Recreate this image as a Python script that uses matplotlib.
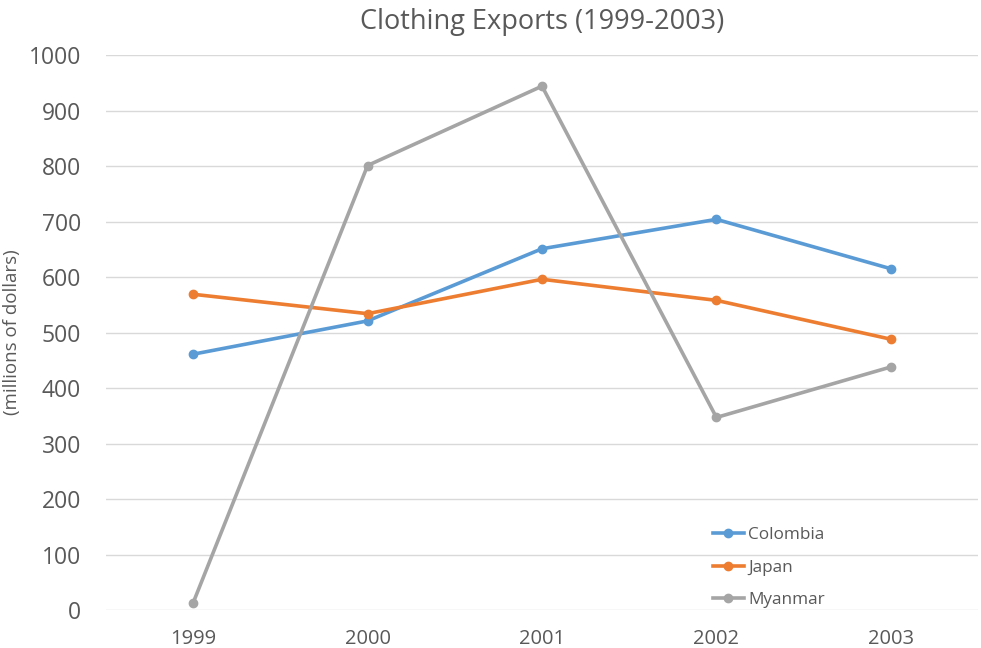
import numpy as np
import matplotlib.pyplot as plt

years = ["1999", "2000", "2001", "2002", "2003"]
colombia = [461, 521, 651, 704, 615]
japan = [569, 534, 596, 558, 488]
myanmar = [13, 801, 944, 347, 438]

plt.rcParams['font.family'] = ['Open Sans', 'DejaVu Sans']
txt = '#595959'

fig = plt.figure(figsize=(9.81, 6.48), dpi=100)
ax = fig.add_axes([0.108, 0.0586, 0.889, 0.8564])

x = np.arange(len(years))
ax.plot(x, colombia, color='#5B9BD5', lw=2.6, marker='o', ms=6, label='Colombia')
ax.plot(x, japan, color='#ED7D31', lw=2.6, marker='o', ms=6, label='Japan')
ax.plot(x, myanmar, color='#A5A5A5', lw=2.6, marker='o', ms=6, label='Myanmar')

ax.set_xlim(-0.5, 4.5)
ax.set_ylim(0, 1000)
ax.set_yticks(np.arange(0, 1001, 100))
ax.set_xticks(x)
ax.set_xticklabels(years)
ax.tick_params(axis='y', labelsize=16.5, colors=txt, length=0, pad=18)
ax.tick_params(axis='x', labelsize=14.5, colors=txt, length=0, pad=14)
ax.grid(axis='y', color='#D9D9D9', lw=1)
ax.set_axisbelow(True)
for s in ax.spines.values():
    s.set_visible(False)

ax.set_title("Clothing Exports (1999-2003)", fontsize=19.5, color=txt, pad=19)
ax.set_ylabel("(millions of dollars)", fontsize=13.5, color=txt)
ax.yaxis.set_label_coords(-0.097, 0.5)

ax.legend(loc='lower left', bbox_to_anchor=(0.696, 0.004), frameon=False,
          borderaxespad=0, borderpad=0,
          fontsize=12.3, labelcolor=txt, handlelength=1.8, handletextpad=0.25,
          labelspacing=0.95)

fig.savefig("out.png", dpi=100)
